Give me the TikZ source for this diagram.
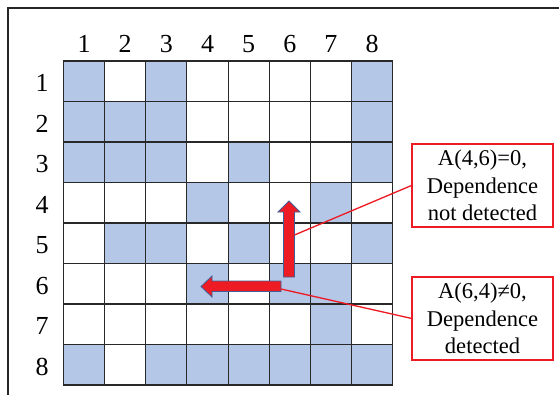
\documentclass[tikz,border=0pt]{standalone}
\usepackage{fontspec}
\setmainfont{Liberation Serif}
\definecolor{cellblue}{RGB}{180,199,231}
\definecolor{gridline}{RGB}{40,40,40}
\definecolor{markred}{RGB}{237,28,36}
\definecolor{arrowedge}{RGB}{65,95,150}
\begin{document}
\begin{tikzpicture}[x=0.75pt,y=-0.75pt,
  cellbase/.style={draw=gridline,line width=0.8pt,minimum width=30.86pt,
    minimum height=30.375pt,inner sep=0pt,outer sep=0pt},
  cell0/.style={cellbase,fill=white},
  cell1/.style={cellbase,fill=cellblue},
  idx/.style={inner sep=0pt,font=\fontsize{19.5}{22}\selectfont},
  bigarrow/.style={fill=markred,draw=arrowedge,line width=0.6pt,line join=miter},
  note/.style={draw=markred,line width=1.3pt,fill=white,align=center,
    minimum width=106pt,minimum height=62pt,inner sep=2pt,
    font=\fontsize{16.9}{20.6}\selectfont},
  callout/.style={draw=markred,line width=1pt}]
\useasboundingbox (0,0) rectangle (559,395);

% outer frame (top and left edges)
\draw[line width=1.2pt,black!85] (8,395) -- (8,8) -- (559,8);

% 8x8 matrix of cells, 1 = shaded
\foreach \r/\pat in {1/{1,0,1,0,0,0,0,1},2/{1,1,1,0,0,0,0,1},
                     3/{1,1,1,0,1,0,0,1},4/{0,0,0,1,0,0,1,0},
                     5/{0,1,1,0,1,0,0,1},6/{0,0,0,1,0,1,1,0},
                     7/{0,0,0,0,0,0,1,0},8/{1,0,1,1,1,1,1,1}}{
  \foreach \v [count=\c] in \pat {
    \node[cell\v] (c-\r-\c) at ({63.5+41.15*(\c-0.5)},{61+40.5*(\r-0.5)}) {};
  }
}

% column and row indices
\foreach \k in {1,...,8}{
  \node[idx] (col-\k) at ({63.5+41.15*(\k-0.5)},44) {\k};
  \node[idx] (row-\k) at (42,{61+40.5*(\k-0.5)+1.8}) {\k};
}

% block arrows
\filldraw[bigarrow] (283.5,277) -- (283.5,212) -- (278,212) -- (289,201)
  -- (300,212) -- (294.5,212) -- (294.5,277) -- cycle;
\filldraw[bigarrow] (281,281) -- (212,281) -- (212,276) -- (201,286.5)
  -- (212,297) -- (212,291.5) -- (281,291.5) -- cycle;
\coordinate (upshaft) at (294.5,235);
\coordinate (leftend) at (281,289);

% annotations
\node[note] (note1) at (482.5,185.7) {A(4,6)=0,\\Dependence\\not detected};
\node[note] (note2) at (482.5,318.3) {A(6,4)≠0,\\Dependence\\detected};
\draw[callout] (note1.west) -- (upshaft);
\draw[callout] (note2.west) -- (leftend);
\end{tikzpicture}
\end{document}
